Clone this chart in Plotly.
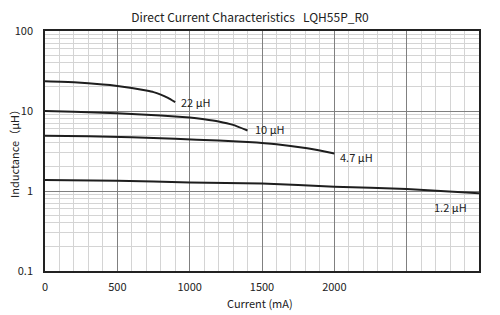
import math
import plotly.graph_objects as go

# ---- data ----
i_22 = [0, 200, 400, 500, 600, 700, 750, 800, 850, 900]
l_22 = [23.5, 22.9, 21.5, 20.6, 19.4, 18.0, 17.2, 16.0, 14.6, 12.9]

i_10 = [0, 200, 400, 600, 800, 1000, 1100, 1200, 1300, 1400]
l_10 = [10.0, 9.8, 9.5, 9.2, 8.8, 8.3, 7.9, 7.4, 6.7, 5.7]

i_47 = [0, 300, 600, 900, 1200, 1400, 1600, 1800, 1900, 2000]
l_47 = [4.9, 4.85, 4.7, 4.5, 4.27, 4.1, 3.85, 3.45, 3.2, 2.95]

i_12 = [0, 500, 1000, 1500, 2000, 2500, 3000]
l_12 = [1.37, 1.34, 1.28, 1.24, 1.13, 1.06, 0.94]

series = [(i_22, l_22), (i_10, l_10), (i_47, l_47), (i_12, l_12)]

label_text = ["22 μH", "10 μH", "4.7 μH", "1.2 μH"]
label_x = [926, 1437, 2025, 2675]
label_y = [12.95, 5.96, 2.66, 0.63]

x_ticks = [0, 500, 1000, 1500, 2000, 2500, 3000]
x_tick_text = ["0", "500", "1000", "1500", "2000", "", ""]
y_ticks = [0.1, 1, 10, 100]
y_tick_text = ["0.1", "1", "10", "100"]

FONT = "Noto Sans CJK JP, Noto Sans, sans-serif"
TXT = "#222"

W, H = 500, 315
ML, MR, MT, MB = 45, 21, 31, 44
PW, PH = W - ML - MR, H - MT - MB


def px_to_paper(px, py):
    return (px - ML) / PW, (H - MB - py) / PH


fig = go.Figure()
for xs, ys in series:
    fig.add_trace(go.Scatter(x=xs, y=ys, mode="lines",
                             line=dict(color="#1e1e1e", width=2, shape="spline", smoothing=0.4),
                             showlegend=False, hoverinfo="skip"))

for t, x, y in zip(label_text, label_x, label_y):
    fig.add_annotation(x=x, y=math.log10(y), xref="x", yref="y", text=t, showarrow=False,
                       xanchor="left", yanchor="middle",
                       font=dict(family=FONT, size=11, color=TXT))

# axis titles as paper annotations
yx, yy = px_to_paper(14, 151)
fig.add_annotation(x=yx, y=yy, xref="paper", yref="paper",
                   text="Inductance（μH）", textangle=-90, showarrow=False,
                   xanchor="center", yanchor="middle",
                   font=dict(family=FONT, size=11, color=TXT))
xx, xy = px_to_paper(260, 303)
fig.add_annotation(x=xx, y=xy, xref="paper", yref="paper",
                   text="Current (mA)", showarrow=False,
                   xanchor="center", yanchor="middle",
                   font=dict(family=FONT, size=11, color=TXT))

fig.update_layout(
    width=W, height=H,
    margin=dict(l=ML, r=MR, t=MT, b=MB, autoexpand=False),
    paper_bgcolor="white", plot_bgcolor="white",
    font=dict(family=FONT, size=11, color=TXT),
    title=dict(text="Direct Current Characteristics   LQH55P_R0",
               x=250 / W, xanchor="center", y=1 - 18 / H, yanchor="middle",
               font=dict(family=FONT, size=12, color=TXT)),
)
fig.update_xaxes(
    range=[0, 3000], tickvals=x_ticks, ticktext=x_tick_text,
    showgrid=True, gridcolor="#808080", gridwidth=1,
    minor=dict(dtick=100, showgrid=True, gridcolor="#d4d4d4", gridwidth=1),
    showline=True, linecolor="#222", linewidth=1.5, mirror=True,
    ticks="", zeroline=False, automargin=False, ticklabelstandoff=5,
)
fig.update_yaxes(
    type="log", range=[-1, 2], tickvals=y_ticks, ticktext=y_tick_text,
    showgrid=True, gridcolor="#808080", gridwidth=1,
    minor=dict(dtick="D1", showgrid=True, gridcolor="#d4d4d4", gridwidth=1),
    showline=True, linecolor="#222", linewidth=1.5, mirror=True,
    ticks="", zeroline=False, automargin=False, ticklabelstandoff=8,
)

fig.write_html("out.html")
